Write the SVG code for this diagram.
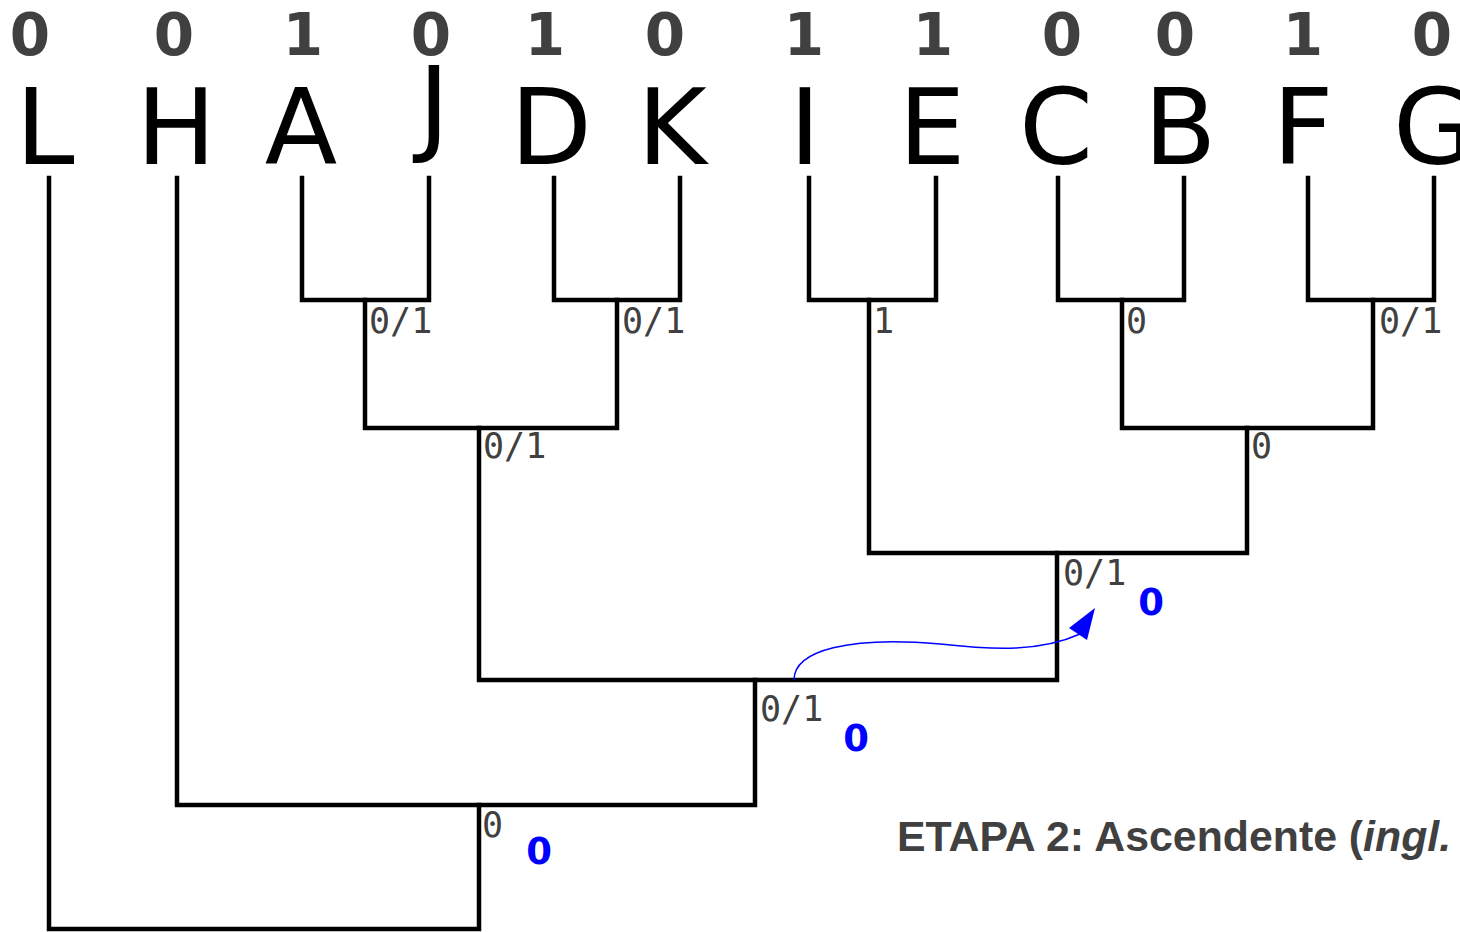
<svg xmlns="http://www.w3.org/2000/svg" width="1460" height="932" viewBox="0 0 1460 932">
<style>
.bit{font-family:"DejaVu Sans",sans-serif;font-weight:bold;font-size:58px;fill:#404040;text-anchor:middle}
.leaf{font-family:"DejaVu Sans",sans-serif;font-size:106px;fill:#000;text-anchor:middle}
.lbl{font-family:"DejaVu Sans Mono",monospace;font-size:35px;fill:#404040}
.res{font-family:"DejaVu Sans",sans-serif;font-weight:bold;font-size:37px;fill:#0000ff;text-anchor:middle}
.edge{fill:none;stroke:#000;stroke-width:4.5;stroke-linejoin:miter;stroke-linecap:square}
.title{font-family:"Liberation Sans",Arial,sans-serif;font-weight:bold;font-size:42.8px;fill:#404040}
</style>
<rect width="1460" height="932" fill="#fff"/>
<g id="connectors">
<path class="edge" d="M302,178 V300 H429 V178"/>
<path class="edge" d="M554,178 V300 H680 V178"/>
<path class="edge" d="M809,178 V300 H936 V178"/>
<path class="edge" d="M1058,178 V300 H1184 V178"/>
<path class="edge" d="M1308,178 V300 H1434 V178"/>
<path class="edge" d="M365,300 V428 H617 V300"/>
<path class="edge" d="M1122,300 V428 H1373 V300"/>
<path class="edge" d="M869,300 V553 H1247 V428"/>
<path class="edge" d="M479,428 V680 H1057 V553"/>
<path class="edge" d="M177,178 V805 H755 V680"/>
<path class="edge" d="M49,178 V929 H479 V805"/>
<path d="M794,680 C794,650 850,636 940,644 C995,650 1040,652 1080,634" fill="none" stroke="#0000ff" stroke-width="1.5"/>
<polygon points="1095,608 1069,628 1087,640" fill="#0000ff"/>
</g>
<g id="leaf-L"><text class="bit" x="30" y="55">0</text><text class="leaf" x="45" y="164">L</text></g>
<g id="leaf-H"><text class="bit" x="174" y="55">0</text><text class="leaf" x="176" y="164">H</text></g>
<g id="leaf-A"><text class="bit" x="303" y="55">1</text><text class="leaf" x="301" y="164">A</text></g>
<g id="leaf-J"><text class="bit" x="431" y="55">0</text><text class="leaf" x="434" y="142">J</text></g>
<g id="leaf-D"><text class="bit" x="545" y="55">1</text><text class="leaf" x="551" y="164">D</text></g>
<g id="leaf-K"><text class="bit" x="665" y="55">0</text><text class="leaf" x="672" y="164">K</text></g>
<g id="leaf-I"><text class="bit" x="804" y="55">1</text><text class="leaf" x="805" y="164">I</text></g>
<g id="leaf-E"><text class="bit" x="933" y="55">1</text><text class="leaf" x="932" y="164">E</text></g>
<g id="leaf-C"><text class="bit" x="1062" y="55">0</text><text class="leaf" x="1056" y="164">C</text></g>
<g id="leaf-B"><text class="bit" x="1175" y="55">0</text><text class="leaf" x="1180" y="164">B</text></g>
<g id="leaf-F"><text class="bit" x="1303" y="55">1</text><text class="leaf" x="1303" y="164">F</text></g>
<g id="leaf-G"><text class="bit" x="1432" y="55">0</text><text class="leaf" x="1434" y="164">G</text></g>
<g id="node-AJ"><text class="lbl" x="369" y="333">0/1</text></g>
<g id="node-DK"><text class="lbl" x="622" y="333">0/1</text></g>
<g id="node-IE"><text class="lbl" x="873" y="333">1</text></g>
<g id="node-CB"><text class="lbl" x="1126" y="333">0</text></g>
<g id="node-FG"><text class="lbl" x="1379" y="333">0/1</text></g>
<g id="node-AJDK"><text class="lbl" x="483" y="458">0/1</text></g>
<g id="node-CBFG"><text class="lbl" x="1251" y="458">0</text></g>
<g id="node-IECBFG"><text class="lbl" x="1063" y="585">0/1</text><text class="res" x="1151" y="615">0</text></g>
<g id="node-mid"><text class="lbl" x="760" y="721">0/1</text><text class="res" x="856" y="751">0</text></g>
<g id="node-root"><text class="lbl" x="482" y="837">0</text><text class="res" x="539" y="864">0</text></g>
<text class="title" x="897" y="851">ETAPA 2: Ascendente (<tspan font-style="italic">ingl.</tspan></text>
</svg>
